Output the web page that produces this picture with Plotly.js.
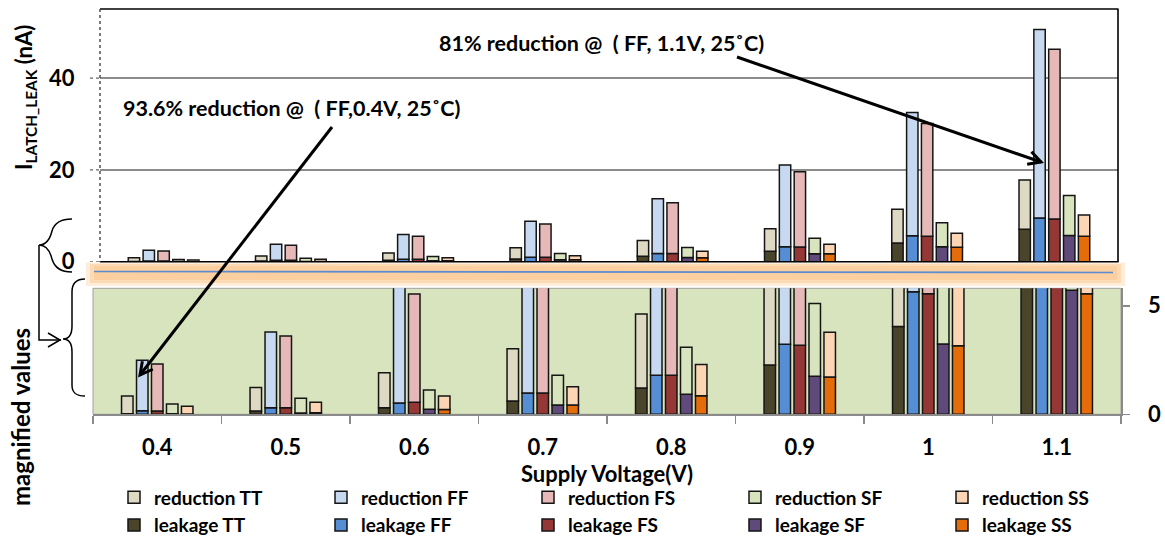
<!DOCTYPE html>
<html><head><meta charset="utf-8">
<script src="https://cdn.plot.ly/plotly-3.0.1.min.js"></script>
<style>html,body{margin:0;padding:0;background:#fff}#chart{width:1165px;height:541px}</style>
</head><body><div id="chart"></div>
<script>
// ---- data ----
const voltages = ['0.4','0.5','0.6','0.7','0.8','0.9','1','1.1'];
const corners = ['TT','FF','FS','SF','SS'];

const leakageTT = [0.03, 0.15, 0.30, 0.61, 1.21, 2.27, 4.05, 7.06];
const leakageFF = [0.16, 0.30, 0.52, 0.98, 1.80, 3.23, 5.65, 9.50];
const leakageFS = [0.15, 0.30, 0.55, 0.98, 1.80, 3.18, 5.55, 9.30];
const leakageSF = [0.02, 0.06, 0.23, 0.43, 0.92, 1.75, 3.24, 5.72];
const leakageSS = [0.01, 0.07, 0.22, 0.43, 0.86, 1.72, 3.16, 5.55];

const reductionTT = [0.81, 1.08, 1.62, 2.41, 3.41, 4.92, 7.35, 10.74];
const reductionFF = [2.33, 3.49, 5.38, 7.82, 11.90, 17.84, 26.85, 41.10];
const reductionFS = [2.17, 3.31, 4.99, 7.22, 11.05, 16.42, 24.55, 37.00];
const reductionSF = [0.45, 0.68, 0.89, 1.37, 2.17, 3.35, 5.26, 8.68];
const reductionSS = [0.36, 0.48, 0.62, 0.84, 1.44, 2.06, 3.04, 4.65];

const leakage = {TT: leakageTT, FF: leakageFF, FS: leakageFS, SF: leakageSF, SS: leakageSS};
const reduction = {TT: reductionTT, FF: reductionFF, FS: reductionFS, SF: reductionSF, SS: reductionSS};

const leakColors = {TT:'#4A452A', FF:'#558ED5', FS:'#953735', SF:'#604A7B', SS:'#E46C0A'};
const redColors  = {TT:'#DDD9C3', FF:'#C6D9F1', FS:'#E6B9B8', SF:'#D7E4BD', SS:'#FCD5B5'};

const annoText1 = '93.6% reduction @\u00a0 ( FF,0.4V, 25\u02daC)';
const annoText2 = '81% reduction @\u00a0 ( FF, 1.1V, 25\u02daC)';

// ---- helpers ----
const W = 1165, H = 541;
const px = x => x / W;
const py = y => 1 - y / H;
const FONT = 'Lato, "Open Sans", sans-serif';

function pathOf(cmds){
  return cmds.map(c => {
    const op = c[0]; const nums = c.slice(1); const out = [];
    for(let i=0;i<nums.length;i+=2){ out.push(px(nums[i]).toFixed(5)+','+py(nums[i+1]).toFixed(5)); }
    return op + out.join(' ');
  }).join(' ');
}
function arrowShapes(tail, tip, headLen, width){
  const dx = tip[0]-tail[0], dy = tip[1]-tail[1], L = Math.hypot(dx,dy);
  const bx = -dx/L, by = -dy/L, a = 28*Math.PI/180, c = Math.cos(a), s = Math.sin(a);
  const p1 = [tip[0] + headLen*(bx*c - by*s), tip[1] + headLen*(bx*s + by*c)];
  const p2 = [tip[0] + headLen*(bx*c + by*s), tip[1] + headLen*(-bx*s + by*c)];
  return [
    {type:'path', xref:'paper', yref:'paper', line:{color:'#000', width:width},
     path: pathOf([['M',tail[0],tail[1]],['L',tip[0],tip[1]]])},
    {type:'path', xref:'paper', yref:'paper', line:{color:'#000', width:width},
     path: pathOf([['M',p1[0],p1[1]],['L',tip[0],tip[1]],['L',p2[0],p2[1]]])}
  ];
}

const traces = [];
function addPanel(xa, ya, showLegend){
  corners.forEach((c,i) => {
    traces.push({type:'bar', x:voltages, y:leakage[c], name:'leakage '+c, offsetgroup:c,
      xaxis:xa, yaxis:ya, showlegend:showLegend, legendrank:200+i,
      marker:{color:leakColors[c], line:{color:'#151515', width:1.5}}});
    traces.push({type:'bar', x:voltages, y:reduction[c], base:leakage[c], name:'reduction '+c, offsetgroup:c,
      xaxis:xa, yaxis:ya, showlegend:showLegend, legendrank:100+i,
      marker:{color:redColors[c], line:{color:'#151515', width:1.5}}});
  });
}
addPanel('x2','y2', true);
addPanel('x','y', false);

const tickFont = {family:FONT, size:22, color:'#000', weight:'bold'};

const shapes = [
  // magnified panel background
  {type:'rect', xref:'paper', yref:'paper', x0:px(93), x1:px(1121), y0:py(414.3), y1:py(288.3),
   fillcolor:'#D7E4BD', line:{color:'#a0a0a0', width:1}, layer:'below'},
  // orange glow band
  {type:'rect', xref:'paper', yref:'paper', x0:px(86), x1:px(1125), y0:py(286), y1:py(262.5),
   fillcolor:'rgba(252,214,172,0.45)', line:{width:0}, layer:'below'},
  {type:'rect', xref:'paper', yref:'paper', x0:px(90), x1:px(1121), y0:py(283), y1:py(264),
   fillcolor:'rgba(250,202,150,0.55)', line:{width:0}, layer:'below'},
  {type:'rect', xref:'paper', yref:'paper', x0:px(94), x1:px(1117), y0:py(280), y1:py(266),
   fillcolor:'rgba(249,196,140,0.5)', line:{width:0}, layer:'below'},
  // blue line
  {type:'line', xref:'paper', yref:'paper', x0:px(94), x1:px(1113), y0:py(271.5), y1:py(272.5),
   line:{color:'#5B8BD0', width:1.6}},
  // top panel frame
  {type:'line', xref:'paper', yref:'paper', x0:px(100), x1:px(1118.5), y0:py(9), y1:py(9), line:{color:'#000', width:1.6}},
  {type:'line', xref:'paper', yref:'paper', x0:px(1118), x1:px(1118), y0:py(9), y1:py(262), line:{color:'#000', width:1.6}},
  {type:'line', xref:'paper', yref:'paper', x0:px(100), x1:px(1118.5), y0:py(261.8), y1:py(261.8), line:{color:'#000', width:1.6}},
  {type:'line', xref:'paper', yref:'paper', x0:px(100), x1:px(100), y0:py(9), y1:py(262), line:{color:'#444', width:1.4, dash:'dot'}},
  // dotted tick marks
  ...[0,20,40].map(v => ({type:'line', xref:'paper', yref:'y2', x0:px(90), x1:px(100), y0:v, y1:v,
    line:{color:'#666', width:1.4, dash:'dot'}})),
  // upper brace
  {type:'path', xref:'paper', yref:'paper', line:{color:'#000', width:1.5},
   path: pathOf([['M',72,219],['C',60,219,54,224,52,231],['C',50,239,46,245,39,245],
                 ['C',46,245,50,251,52,259],['C',54,266,60,272,72,272]])},
  // lower brace
  {type:'path', xref:'paper', yref:'paper', line:{color:'#000', width:1.5},
   path: pathOf([['M',85,279],['C',76,279,72,283,72,292],['L',72,326],['C',72,334,69,339,63,339],
                 ['C',69,339,72,344,72,352],['L',72,385],['C',72,393,76,396,85,396]])},
  // connector with arrow
  {type:'path', xref:'paper', yref:'paper', line:{color:'#000', width:1.5},
   path: pathOf([['M',39,245],['L',39,340],['L',61,340]])},
  {type:'path', xref:'paper', yref:'paper', line:{color:'#000', width:1.5},
   path: pathOf([['M',48,333],['L',60,340],['L',48,347]])},
  // annotation arrows
  ...arrowShapes([332,127],[140,375], 14, 3),
  ...arrowShapes([737,57],[1041,162], 14, 3)
];

const annotations = [
  {xref:'paper', yref:'paper', x:px(25), y:py(98), text:'I<sub>LATCH_LEAK</sub> (nA)', textangle:-90,
   showarrow:false, xanchor:'center', yanchor:'middle', font:{family:FONT, size:22, color:'#000', weight:'bold'}},
  {xref:'paper', yref:'paper', x:px(20), y:py(417), text:'magnified values', textangle:-90,
   showarrow:false, xanchor:'center', yanchor:'middle', font:{family:FONT, size:24, color:'#000', weight:'bold'}},
  {xref:'paper', yref:'paper', x:px(121), y:py(108), text:annoText1, showarrow:false, xanchor:'left', yanchor:'middle',
   font:{family:FONT, size:21.5, color:'#000', weight:'bold'}},
  {xref:'paper', yref:'paper', x:px(437), y:py(43), text:annoText2, showarrow:false, xanchor:'left', yanchor:'middle',
   font:{family:FONT, size:21.5, color:'#000', weight:'bold'}}
];

const layout = {
  width:W, height:H,
  margin:{l:0, r:0, t:0, b:0, autoexpand:false},
  paper_bgcolor:'#fff', plot_bgcolor:'rgba(0,0,0,0)',
  barmode:'group', bargap:0.417, bargroupgap:0.233,
  font:{family:FONT, color:'#000'},
  hovermode:false,
  xaxis:{domain:[px(93), px(1121)], anchor:'y', type:'category', tickson:'boundaries',
    ticks:'outside', ticklen:8, tickcolor:'#8a8a8a', tickwidth:1.5,
    showline:true, linecolor:'#8a8a8a', linewidth:1.5, showgrid:false, zeroline:false,
    tickfont:tickFont, ticklabelstandoff:13,
    title:{text:'Supply Voltage(V)', font:{family:FONT, size:22, color:'#000', weight:'bold'}, standoff:0}},
  yaxis:{domain:[py(414.3), py(288.3)], anchor:'x', side:'right', range:[0, 5.806],
    tickvals:[0,5], ticktext:['0','5'], ticks:'outside', ticklen:7, tickcolor:'#8a8a8a', tickwidth:1.5,
    showline:true, linecolor:'#8a8a8a', linewidth:1.5, showgrid:false, zeroline:false,
    tickfont:tickFont, ticklabelstandoff:14},
  xaxis2:{domain:[px(100), px(1118)], anchor:'y2', type:'category', showticklabels:false, ticks:'',
    showline:false, showgrid:false, zeroline:false},
  yaxis2:{domain:[py(261.7), py(9)], anchor:'x2', range:[0, 55.05], tickvals:[0,20,40],
    ticks:'outside', ticklen:10, tickcolor:'rgba(0,0,0,0)', ticklabelstandoff:10,
    showline:false, showgrid:true, gridcolor:'#8c8c8c', gridwidth:1.4, zeroline:false,
    tickfont:tickFont},
  legend:{orientation:'h', x:px(114), y:py(478.5), xanchor:'left', yanchor:'top', traceorder:'normal',
    entrywidth:162, tracegroupgap:0, bgcolor:'rgba(0,0,0,0)',
    font:{family:FONT, size:19, color:'#000', weight:'bold'}},
  shapes:shapes, annotations:annotations
};

Plotly.newPlot('chart', traces, layout, {displayModeBar:false, staticPlot:true});
</script>
</body></html>
